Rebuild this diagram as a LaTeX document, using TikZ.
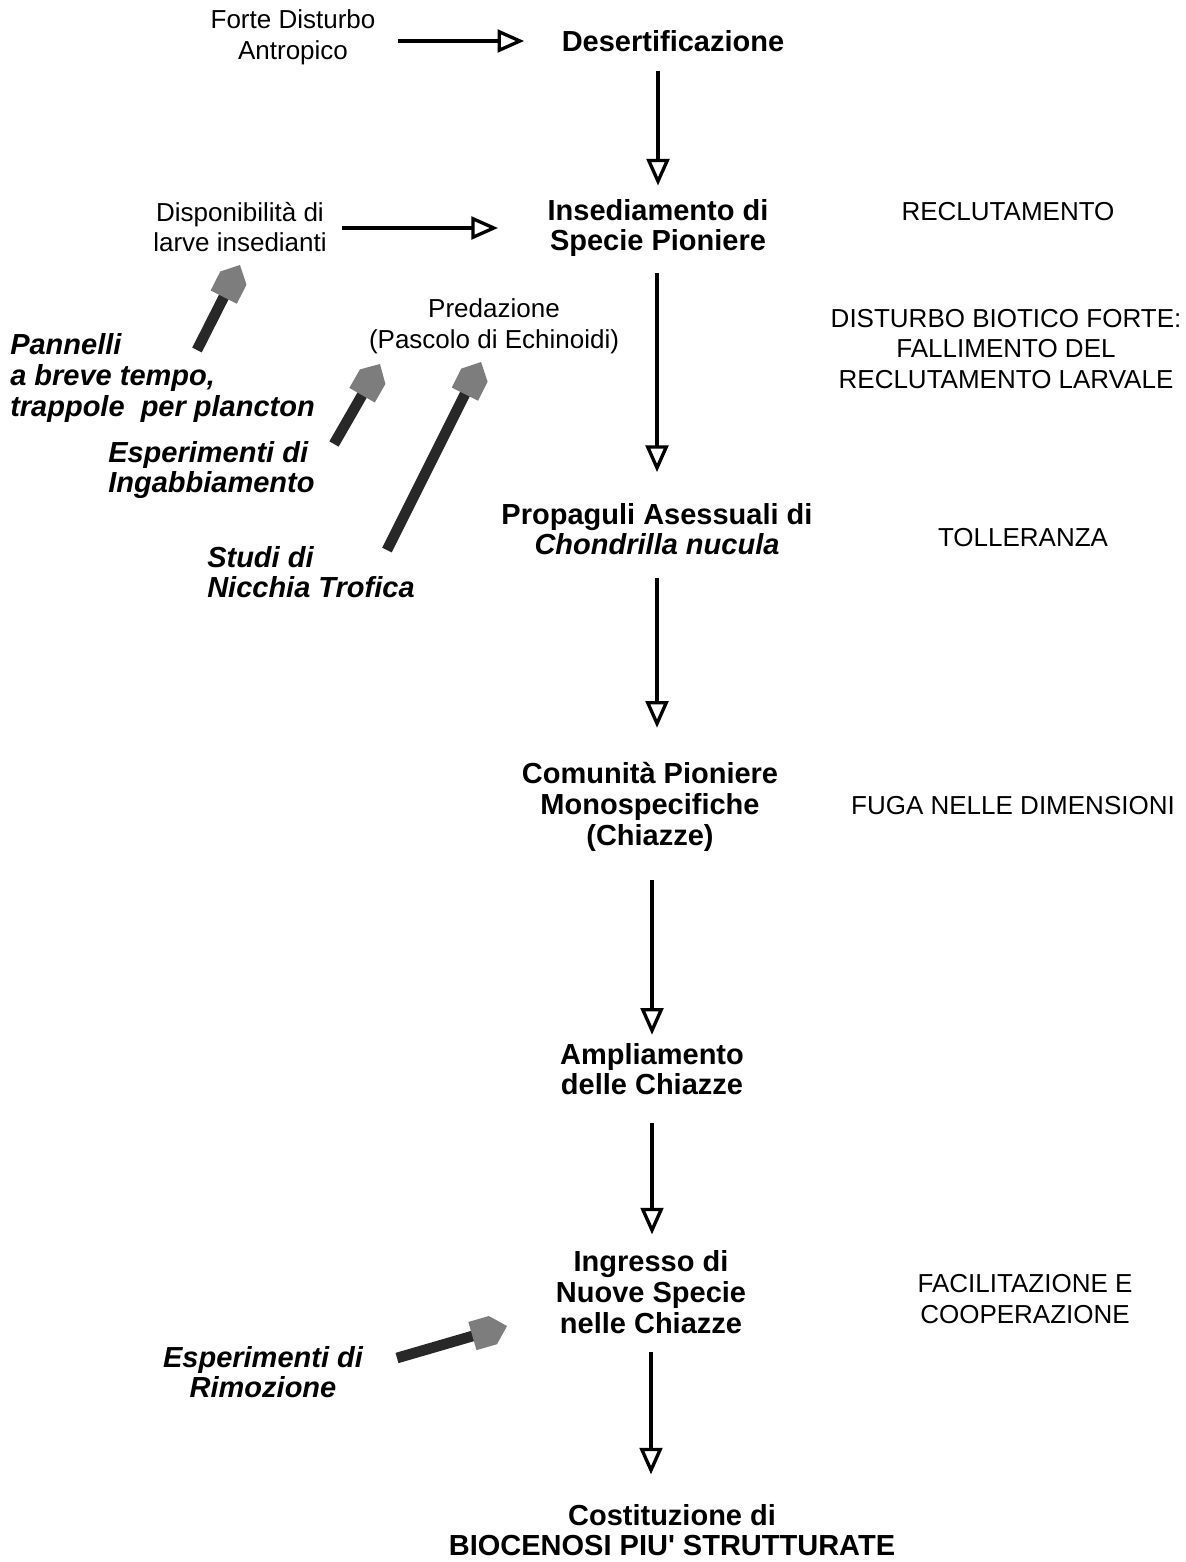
\documentclass[tikz,border=0pt]{standalone}
\usepackage{fontspec}
\setmainfont{Liberation Sans}
\usetikzlibrary{arrows.meta,calc}

\definecolor{shaftgray}{RGB}{40,40,40}
\definecolor{headgray}{RGB}{125,125,125}

\tikzset{
  plain/.style={inner sep=0pt, align=center, font=\fontsize{19.5}{23}\selectfont},
  stage/.style={inner sep=0pt, align=center, font=\fontsize{21.75}{23}\selectfont\bfseries},
  method/.style={inner sep=0pt, font=\fontsize{21.75}{23}\selectfont\bfseries\itshape},
  flow/.style={line width=3pt, -{Triangle[open,length=20pt,width=17pt,line width=2.5pt]}},
}

% thick grey-headed arrow from tail #1 to tip #2
\newcommand\fatarrow[2]{%
  \coordinate (fa-b) at ($(#2)!27pt!(#1)$);
  \coordinate (fa-s) at ($(#2)!11pt!(#1)$);
  \draw [shaftgray, line width=8pt] (#1) -- ($(fa-b)!1pt!(#2)$);
  \fill [headgray] ($(fa-b)!11pt!90:(#2)$) -- ($(fa-s)!11pt!90:(#2)$) -- (#2) -- ($(fa-s)!11pt!-90:(#2)$) -- ($(fa-b)!11pt!-90:(#2)$) -- cycle;
}

\begin{document}
\begin{tikzpicture}[x=0.75pt,y=0.75pt,yscale=-1,xscale=1]
\useasboundingbox (0,0) rectangle (1185,1562);

% Text Node
\draw (293,37) node (dist) [plain] {Forte Disturbo\\Antropico};
% Text Node
\draw (673,41) node (deser) [stage] {Desertificazione};
% Text Node
\draw (240,227) node (dispo) [plain] {Disponibilità di\\larve insedianti};
% Text Node
\draw (658,228) node (insed) [stage] {Insediamento di\\Specie Pioniere};
% Text Node
\draw (1008,212) node (recl) [plain] {RECLUTAMENTO};
% Text Node
\draw (494,326) node (preda) [plain] {Predazione\\(Pascolo di Echinoidi)};
% Text Node
\draw (1006,349) node (biot) [plain] {DISTURBO BIOTICO FORTE:\\FALLIMENTO DEL\\RECLUTAMENTO LARVALE};
% Text Node
\draw (10,378) node (pann) [method, anchor=west, align=left] {Pannelli\\a breve tempo,\\trappole\ \ per plancton};
% Text Node
\draw (108,470) node (ingab) [method, anchor=west, align=left] {Esperimenti di\\Ingabbiamento};
% Text Node
\draw (207,572) node (nicch) [method, anchor=west, align=left] {Studi di\\Nicchia Trofica};
% Text Node
\draw (657,529) node (propa) [stage] {Propaguli Asessuali di\\\textit{Chondrilla nucula}};
% Text Node
\draw (1023,538) node (toll) [plain] {TOLLERANZA};
% Text Node
\draw (650,807) node (comun) [stage] {Comunità Pioniere\\Monospecifiche\\(Chiazze)};
% Text Node
\draw (1013,806) node (fuga) [plain] {FUGA NELLE DIMENSIONI};
% Text Node
\draw (652,1069) node (ampl) [stage] {Ampliamento\\delle Chiazze};
% Text Node
\draw (651,1292) node (ingr) [stage] {Ingresso di\\Nuove Specie\\nelle Chiazze};
% Text Node
\draw (1025,1299) node (facil) [plain] {FACILITAZIONE E\\COOPERAZIONE};
% Text Node
\draw (263,1372) node (rimoz) [method, align=center] {Esperimenti di\\Rimozione};
% Text Node
\draw (672,1530) node (costit) [stage] {Costituzione di\\BIOCENOSI PIU\textquotesingle\ STRUTTURATE};

% Straight Lines
\draw [flow, shorten <=17pt, shorten >=28pt] (deser.west -| dist.east) -- (deser.west);
\draw [flow, shorten <=11pt, shorten >=37pt] (insed.west -| dispo.east) -- (insed.west);
\draw [flow, shorten <=14pt, shorten >=10pt] (insed |- deser.south) -- (insed.north);
\draw [flow, shorten <=12pt, shorten >=23pt] (propa |- insed.south) -- (propa.north);
\draw [flow, shorten <=17pt, shorten >=26pt] (propa.south) -- (propa |- comun.north);
\draw [flow, shorten <=21pt, shorten >=6pt] (ampl |- comun.south) -- (ampl.north);
\draw [flow, shorten <=21pt, shorten >=12pt] (ampl.south) -- (ampl |- ingr.north);
\draw [flow, shorten <=14pt, shorten >=22pt] (ingr.south) -- (ingr |- costit.north);

% Thick Arrows
\coordinate (pann-t) at (197,350);
\coordinate (pann-h) at (240,265);
\coordinate (ingab-t) at (334,444);
\coordinate (ingab-h) at (380,364);
\coordinate (nicch-t) at (387,550);
\coordinate (nicch-h) at (481,362);
\coordinate (rimoz-t) at (397,1358);
\coordinate (rimoz-h) at (507,1326);
\fatarrow{pann-t}{pann-h}
\fatarrow{ingab-t}{ingab-h}
\fatarrow{nicch-t}{nicch-h}
\fatarrow{rimoz-t}{rimoz-h}

\end{tikzpicture}
\end{document}
